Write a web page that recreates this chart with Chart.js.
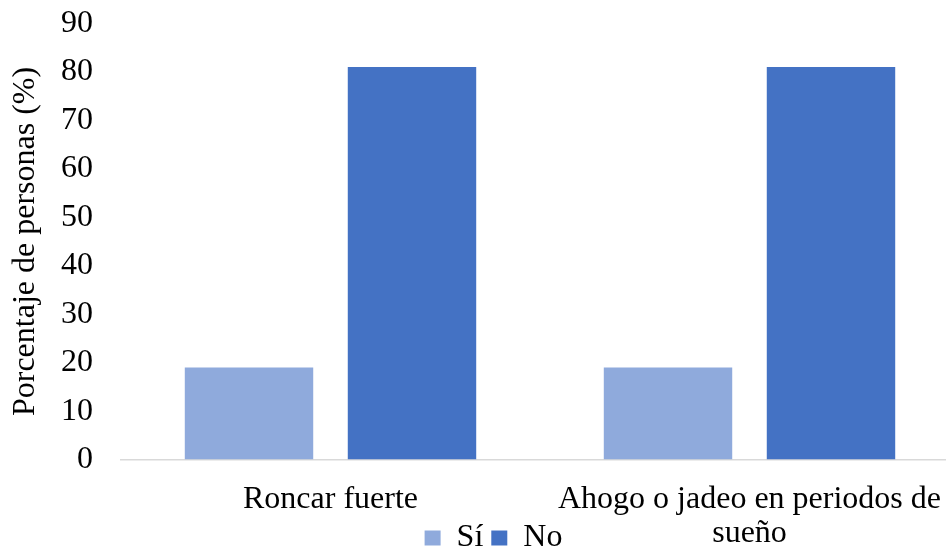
<!DOCTYPE html>
<html>
<head>
<meta charset="utf-8">
<script src="https://cdn.jsdelivr.net/npm/chart.js@4.4.1/dist/chart.umd.min.js"></script>
<style>
  html, body { margin: 0; padding: 0; background: #ffffff; overflow: hidden; }
  #wrap { width: 946px; height: 550px; overflow: hidden; }
  canvas { display: block; }
</style>
</head>
<body>
<div id="wrap"><canvas id="chart" width="960" height="550"></canvas></div>
<script>
// Categories and values (percent of people)
const categories = ['Roncar fuerte', ['Ahogo o jadeo en periodos de', 'sueño']];
const siValues = [19, 19];
const noValues = [81, 81];
const yTicks = [0, 10, 20, 30, 40, 50, 60, 70, 80, 90];

const serif = '"Times New Roman", "Liberation Serif", serif';
const textColor = '#000000';

// Lets the wrapped category label run into the legend band,
// and nudges the centred legend a little
const legendOverlap = {
  id: 'legendOverlap',
  afterLayout(chart) {
    const x = chart.scales.x;
    x.bottom = chart.height;
    x.height = x.bottom - x.top;
    const lg = chart.legend;
    if (lg) {
      lg.left += 14; lg.right += 14;
      lg.top += 4; lg.bottom += 4;
    }
  }
};

new Chart(document.getElementById('chart'), {
  type: 'bar',
  data: {
    labels: categories,
    datasets: [
      { label: 'Sí', data: siValues, backgroundColor: '#8FAADC', borderWidth: 0 },
      { label: 'No', data: noValues, backgroundColor: '#4472C4', borderWidth: 0 }
    ]
  },
  plugins: [legendOverlap],
  options: {
    responsive: false,
    animation: false,
    layout: { padding: { left: 0, right: 1, top: 23.3, bottom: -10 } },
    categoryPercentage: 0.778,
    barPercentage: 0.788,
    plugins: {
      legend: {
        position: 'bottom',
        align: 'center',
        labels: {
          color: textColor,
          font: { family: serif, size: 32, lineHeight: 1 },
          boxWidth: 16,
          boxHeight: 15,
          padding: 8
        }
      },
      tooltip: { enabled: false },
      title: { display: false }
    },
    scales: {
      x: {
        grid: { display: false, drawTicks: true, tickLength: 23 },
        border: { display: true, color: '#D9D9D9', width: 1.5 },
        ticks: {
          color: textColor,
          font: { family: serif, size: 32, lineHeight: 1.06 },
          padding: 0,
          maxRotation: 0,
          autoSkip: false
        },
        afterFit(scale) { scale.height = 50.4; }
      },
      y: {
        min: 0,
        max: 90,
        afterBuildTicks(scale) { scale.ticks = yTicks.map(v => ({ value: v })); },
        grid: { display: false, drawTicks: true, tickLength: 28 },
        border: { display: false },
        ticks: {
          color: textColor,
          font: { family: serif, size: 32 },
          padding: 0
        },
        title: {
          display: true,
          text: 'Porcentaje de personas (%)',
          color: textColor,
          font: { family: serif, size: 32, lineHeight: 1.2 },
          padding: { top: 6, bottom: 0 }
        },
        afterFit(scale) { scale.width = 121; }
      }
    }
  }
});
</script>
</body>
</html>
